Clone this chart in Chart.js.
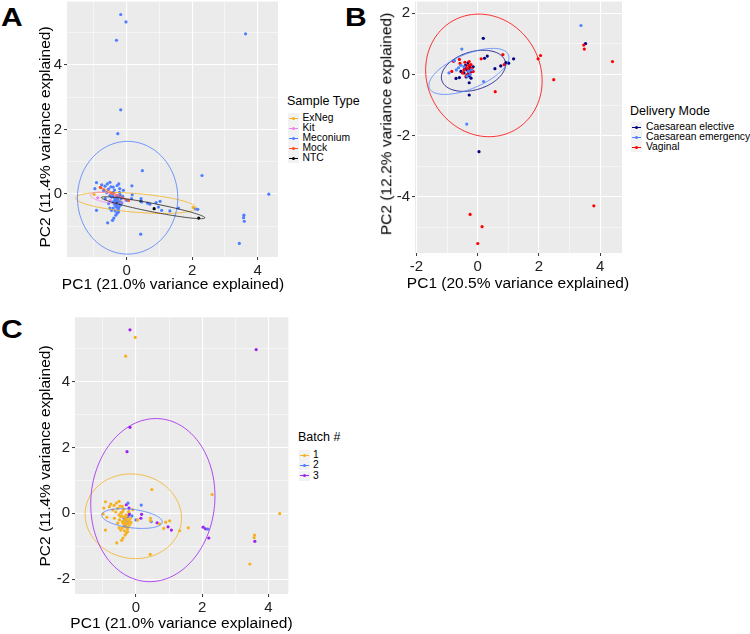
<!DOCTYPE html>
<html>
<head>
<meta charset="utf-8">
<script src="https://cdn.jsdelivr.net/npm/chart.js@4.4.0/dist/chart.umd.min.js"></script>
<style>
  body { margin: 0; background: #fff; width: 750px; height: 634px; position: relative; overflow: hidden;
         font-family: "Liberation Sans", Arial, sans-serif; }
  .panel { position: absolute; }
  .tag { position: absolute; font-weight: bold; font-size: 25px; line-height: 1; transform-origin: left top; transform: scaleX(1.2); }
  .ax { position: absolute; white-space: nowrap; font-size: 15.5px; line-height: 1; color: #000; }
  .lg { position: absolute; white-space: nowrap; color: #000; }
  .lg-title { font-size: 12.5px; line-height: 15px; }
  .lg-text { font-size: 10.3px; line-height: 12px; }
  .lg-key { position: absolute; width: 11px; height: 10px; background: #f2f2f2; }
  .lg-key i { position: absolute; left: 1px; top: 4.5px; width: 9px; height: 1px; }
  .lg-key b { position: absolute; left: 4px; top: 3.5px; width: 3px; height: 3px; border-radius: 50%; }
</style>
</head>
<body>
<div class="tag" style="left:1px;top:5px">A</div>
<div class="tag" style="left:345px;top:5px">B</div>
<div class="tag" style="left:1px;top:317px">C</div>

<canvas id="chartA" class="panel" style="left:0;top:0" width="280" height="300"></canvas>
<canvas id="chartB" class="panel" style="left:372px;top:0" width="252" height="300"></canvas>
<canvas id="chartC" class="panel" style="left:0;top:310px" width="290" height="324"></canvas>
<div id="titles"></div>
<div id="legendA"></div>
<div id="legendB"></div>
<div id="legendC"></div>

<script>
const FONT = '"Liberation Sans", Arial, sans-serif'

// ---- Panels A and C: same PCA, coloured by sample type (A) and batch (C) ----
// [PC1, PC2, sample type, batch]
const acSamples = [
  [-0.18, 5.57, 'Meconium', 3], [-0.02, 5.34, 'Meconium', 1], [-0.31, 4.77, 'Meconium', 1],
  [3.63, 4.97, 'Meconium', 3], [-0.18, 2.61, 'Meconium', 3], [-0.27, 1.87, 'Meconium', 3],
  [0.48, 0.72, 'Meconium', 1], [2.30, 0.57, 'Meconium', 1], [4.34, -0.01, 'Meconium', 1],
  [3.58, -0.66, 'Meconium', 1], [3.57, -0.74, 'Meconium', 1], [3.59, -0.85, 'Meconium', 3],
  [3.44, -1.54, 'Meconium', 1], [0.43, -1.25, 'Meconium', 1], [-0.58, -0.90, 'Meconium', 1],
  [-0.43, -0.82, 'Meconium', 1], [-0.39, -0.75, 'Meconium', 1], [-0.92, -0.51, 'Meconium', 1],
  [-0.92, 0.35, 'Meconium', 1], [-0.97, 0.16, 'Meconium', 1], [-0.76, 0.28, 'Meconium', 1],
  [-0.66, 0.24, 'Meconium', 1], [-0.59, 0.31, 'Meconium', 1], [-0.51, 0.36, 'Meconium', 1],
  [-0.41, 0.21, 'Meconium', 1], [-0.29, 0.26, 'Meconium', 3], [-0.24, 0.31, 'Meconium', 2],
  [-0.21, 0.16, 'Meconium', 3], [-0.10, 0.11, 'Meconium', 1], [0.16, 0.25, 'Meconium', 2],
  [0.17, -0.03, 'Meconium', 3], [0.15, -0.15, 'Meconium', 3], [-0.61, 0.04, 'Meconium', 1],
  [-0.51, -0.05, 'Meconium', 1], [-0.46, -0.10, 'Meconium', 1], [-0.36, -0.15, 'Meconium', 2],
  [-0.31, -0.20, 'Meconium', 2], [-0.25, -0.10, 'Meconium', 2], [-0.21, -0.05, 'Meconium', 3],
  [-0.41, -0.25, 'Meconium', 1], [-0.36, -0.33, 'Meconium', 1], [-0.31, -0.41, 'Meconium', 1],
  [-0.41, -0.44, 'Meconium', 1], [-0.46, -0.51, 'Meconium', 1], [-0.25, -0.56, 'Meconium', 1],
  [-0.33, -0.66, 'Meconium', 1], [-0.51, -0.44, 'Meconium', 1], [0.00, -0.20, 'Meconium', 2],
  [0.46, -0.25, 'Meconium', 2], [0.71, -0.32, 'Meconium', 1], [0.90, -0.27, 'Meconium', 1],
  [1.02, -0.23, 'Meconium', 1], [0.97, -0.41, 'Meconium', 3], [1.07, -0.51, 'Meconium', 3],
  [1.32, -0.53, 'Meconium', 1], [1.58, -0.44, 'Meconium', 1], [0.64, -0.29, 'Meconium', 3],
  [0.44, -0.15, 'Meconium', 1], [2.10, -0.47, 'Meconium', 3], [2.17, -0.48, 'Meconium', 2],
  [-0.28, -0.18, 'Meconium', 1], [-0.22, -0.25, 'Meconium', 1], [-0.35, -0.22, 'Meconium', 1],
  [-0.27, -0.32, 'Meconium', 1], [-0.19, -0.35, 'Meconium', 1], [-0.33, -0.38, 'Meconium', 2],
  [-0.24, -0.42, 'Meconium', 1], [-0.38, -0.30, 'Meconium', 1], [-0.30, -0.10, 'Meconium', 1],
  [-0.17, -0.15, 'Meconium', 1], [-0.42, -0.08, 'Meconium', 1], [-0.26, -0.48, 'Meconium', 1],
  [-0.35, -0.53, 'Meconium', 1], [-0.20, -0.02, 'Meconium', 3], [-0.15, -0.28, 'Meconium', 1],
  [-0.40, 0.05, 'Meconium', 1], [-0.55, 0.15, 'Meconium', 1], [-0.70, 0.10, 'Meconium', 1],
  [-0.65, -0.15, 'Meconium', 1], [-0.55, -0.30, 'Meconium', 1], [-0.29, -0.60, 'Meconium', 1],
  [-0.22, 0.05, 'Meconium', 1], [-0.12, -0.08, 'Meconium', 2], [-0.37, 0.12, 'Meconium', 1],
  [-0.48, 0.22, 'Meconium', 1],
  [0.44, -0.23, 'NTC', 1], [0.84, -0.46, 'NTC', 1], [2.20, -0.75, 'NTC', 3],
  [-0.31, -0.30, 'NTC', 1], [-0.25, -0.28, 'NTC', 2],
  [-0.99, -0.02, 'ExNeg', 1], [2.03, -0.42, 'ExNeg', 3], [-0.20, -0.22, 'ExNeg', 1], [-0.35, -0.12, 'ExNeg', 1],
  [-0.88, -0.12, 'Kit', 1], [-0.50, -0.20, 'Kit', 1], [-0.30, -0.05, 'Kit', 1],
  [-0.80, 0.20, 'Mock', 1], [-0.45, 0.02, 'Mock', 1], [0.05, -0.20, 'Mock', 1]
]

const sampleTypes = ['ExNeg', 'Kit', 'Meconium', 'Mock', 'NTC']
const sampleColors = ['#f5b120', '#ee82ee', '#4d7eff', '#ff4f1f', '#000000']
const sampleDrawOrder = ['Meconium', 'ExNeg', 'Kit', 'Mock', 'NTC']
// stat_ellipse outlines: [centre PC1, centre PC2, semi-axis a, semi-axis b, rotation deg]
const sampleEllipses = [
  [0.28, -0.28, 1.84, 0.29, -4.8],
  [-0.58, -0.12, 0.53, 0.15, -10],
  [0.03, -0.12, 1.53, 1.75, 0],
  [-0.37, -0.01, 0.52, 0.025, -25],
  [0.81, -0.43, 1.61, 0.13, -11.3]
]

const batches = [1, 2, 3]
const batchColors = ['#f5b120', '#4d7eff', '#a020f0']
const batchEllipses = [
  [-0.08, -0.09, 1.46, 1.28, -10],
  [-0.12, -0.16, 0.92, 0.28, -7],
  [0.51, 0.40, 1.87, 2.48, -5]
]

// ---- Panel B: delivery mode PCA ----
const deliveryModes = ['Caesarean elective', 'Caesarean emergency', 'Vaginal']
const deliveryColors = ['#000080', '#4f83ff', '#ff0000']
const electivePoints = [
  [3.52, 1.01], [0.04, -2.52], [-0.28, -0.67], [0.18, 1.18], [0.31, 0.60], [0.22, 0.53],
  [0.56, 0.19], [0.75, 0.28], [0.92, 0.39], [1.01, 0.37], [1.17, 0.51], [-0.71, -0.13],
  [-0.28, -0.27], [-0.35, 0.15], [-0.30, 0.05], [-0.25, 0.20], [-0.40, 0.30], [-0.20, 0.10],
  [-0.45, 0.05], [-0.28, -0.05], [-0.32, 0.38], [-0.55, 0.10], [-0.60, -0.10], [-0.15, 0.25],
  [-0.38, -0.08], [-0.22, -0.12], [-0.27, 0.28], [-0.42, 0.20]
]
const emergencyPoints = [
  [3.37, 1.60], [-0.36, -1.62], [0.19, -0.23], [-0.52, 0.83], [-0.94, 0.05], [-0.63, 0.22],
  [-0.30, 0.10], [-0.45, 0.25], [-0.25, 0.00], [-0.55, 0.30], [-0.20, 0.15], [-0.70, 0.15],
  [-0.35, -0.05], [-0.76, 0.45]
]
const vaginalPoints = [
  [4.40, 0.42], [1.97, 0.51], [2.05, 0.62], [2.48, -0.17], [3.46, 0.96], [3.48, 0.83],
  [3.79, -4.29], [-0.25, -4.57], [0.14, -4.97], [0.00, -5.52], [0.57, -0.56], [0.11, 0.51],
  [0.82, 0.65], [0.86, 0.32], [-0.85, 0.10], [-0.79, 0.43], [-0.58, 0.36], [-0.40, 0.25],
  [-0.30, 0.30], [-0.25, 0.05], [-0.35, 0.00], [-0.45, 0.15], [-0.20, 0.20], [-0.30, 0.12],
  [-0.42, 0.40], [-0.50, 0.05], [-0.22, 0.32], [-0.38, -0.05], [-0.60, 0.49], [-0.28, 0.42],
  [-0.15, 0.10], [-0.33, 0.20]
]
const deliveryEllipses = [
  [-0.14, 0.12, 1.08, 0.62, 17],
  [-0.29, 0.10, 1.40, 0.56, 23],
  [0.20, -0.03, 1.85, 2.05, 30]
]

/* ---- plugins ---- */
const panelBg = {
  id: 'panelBg',
  beforeDraw(chart) {
    const { ctx, chartArea: a } = chart
    ctx.save()
    ctx.fillStyle = '#ebebeb'
    ctx.fillRect(a.left, a.top, a.right - a.left, a.bottom - a.top)
    ctx.restore()
  }
}

const ellipses = {
  id: 'ellipses',
  afterDatasetsDraw(chart, args, opts) {
    const { ctx, chartArea: a, scales: { x, y } } = chart
    ctx.save()
    ctx.beginPath()
    ctx.rect(a.left, a.top, a.right - a.left, a.bottom - a.top)
    ctx.clip()
    ctx.globalAlpha = 0.8
    opts.items.forEach(([e, color]) => {
      const [cx, cy, ra, rb, deg] = e
      const th = deg * Math.PI / 180
      ctx.beginPath()
      for (let i = 0; i <= 160; i++) {
        const t = i / 160 * 2 * Math.PI
        const vx = cx + ra * Math.cos(th) * Math.cos(t) - rb * Math.sin(th) * Math.sin(t)
        const vy = cy + ra * Math.sin(th) * Math.cos(t) + rb * Math.cos(th) * Math.sin(t)
        const px = x.getPixelForValue(vx), py = y.getPixelForValue(vy)
        if (i === 0) ctx.moveTo(px, py)
        else ctx.lineTo(px, py)
      }
      ctx.strokeStyle = color
      ctx.lineWidth = 1
      ctx.stroke()
    })
    ctx.restore()
  }
}

const isMajor = (v) => Math.abs(Math.round(v)) % 2 === 0

function axis(min, max, size) {
  return {
    type: 'linear',
    min, max,
    afterFit: (s) => {
      if (s.isHorizontal()) { s.height = size; s.paddingLeft = 0; s.paddingRight = 0 }
      else { s.width = size; s.paddingTop = 0; s.paddingBottom = 0 }
    },
    border: { display: false },
    grid: {
      color: '#ffffff',
      lineWidth: (c) => (c.tick && isMajor(c.tick.value) ? 1.1 : 0.5),
      tickColor: (c) => (c.tick && isMajor(c.tick.value) ? '#333333' : 'rgba(0,0,0,0)'),
      tickLength: 3,
      tickWidth: 1
    },
    ticks: {
      stepSize: 1,
      includeBounds: false,
      autoSkip: false,
      maxRotation: 0,
      padding: 2,
      color: '#222',
      font: { family: FONT, size: 15 },
      callback: (v) => (isMajor(v) ? String(Math.round(v)) : '')
    },
    title: { display: false }
  }
}

function scatterSet(label, points, color) {
  return {
    label,
    data: points.map(([x, y]) => ({ x, y })),
    backgroundColor: color,
    borderWidth: 0,
    pointRadius: 1.6,
    pointHoverRadius: 1.6
  }
}

function makePanel(id, datasets, ell, xr, yr, sizes, layoutPad) {
  return new Chart(document.getElementById(id), {
    type: 'scatter',
    data: { datasets },
    options: {
      responsive: false,
      animation: false,
      events: [],
      layout: { padding: layoutPad },
      plugins: {
        legend: { display: false },
        tooltip: { enabled: false },
        ellipses: { items: ell }
      },
      scales: {
        x: axis(xr[0], xr[1], sizes[0]),
        y: axis(yr[0], yr[1], sizes[1])
      }
    },
    plugins: [panelBg, ellipses]
  })
}

/* ---- Panel A ---- */
makePanel('chartA',
  sampleDrawOrder.map((t) => {
    const i = sampleTypes.indexOf(t)
    return scatterSet(t, acSamples.filter((s) => s[2] === t), sampleColors[i])
  }),
  sampleEllipses.map((e, i) => [e, sampleColors[i] === '#000000' ? '#222' : sampleColors[i]]),
  [-1.82, 4.62], [-1.96, 5.97], [43, 67],
  { left: 0, right: 2, top: 0, bottom: 0 })

/* ---- Panel B ---- */
makePanel('chartB',
  [
    scatterSet(deliveryModes[1], emergencyPoints, deliveryColors[1]),
    scatterSet(deliveryModes[2], vaginalPoints, deliveryColors[2]),
    scatterSet(deliveryModes[0], electivePoints, deliveryColors[0])
  ],
  deliveryEllipses.map((e, i) => [e, deliveryColors[i]]),
  [-2.05, 4.71], [-5.83, 2.38], [47, 43],
  { left: 0, right: 2, top: 0, bottom: 0 })

/* ---- Panel C ---- */
makePanel('chartC',
  batches.map((b, i) => scatterSet(String(b), acSamples.filter((s) => s[3] === b), batchColors[i])),
  batchEllipses.map((e, i) => [e, batchColors[i]]),
  [-1.84, 4.60], [-2.45, 5.95], [40, 75],
  { left: 0, right: 1.7, top: 7.3, bottom: 0 })

/* ---- axis titles (html, so ggplot-style text can run wider than the panel) ---- */
const axisTitles = [
  ['PC1 (21.0% variance explained)', 173, 284, 0],
  ['PC2 (11.4% variance explained)', 45, 137, -90],
  ['PC1 (20.5% variance explained)', 518, 283.3, 0],
  ['PC2 (12.2% variance explained)', 385.5, 124, -90],
  ['PC1 (21.0% variance explained)', 181.5, 623.3, 0],
  ['PC2 (11.4% variance explained)', 45, 455.6, -90]
]
document.getElementById('titles').innerHTML = axisTitles.map(([t, x, y, r]) =>
  `<div class="ax" style="left:${x}px;top:${y}px;transform:translate(-50%,-50%) rotate(${r}deg)">${t}</div>`
).join('')

/* ---- legends ---- */
function buildLegend(el, title, labels, colors, pos) {
  let html = `<div class="lg lg-title" style="left:${pos.left}px;top:${pos.titleY - 7.5}px">${title}</div>`
  labels.forEach((lab, i) => {
    const cy = pos.itemY + i * pos.step
    html += `<div class="lg-key" style="left:${pos.keyLeft}px;top:${cy - 5}px">` +
      `<i style="background:${colors[i]}"></i><b style="background:${colors[i]}"></b></div>`
    html += `<div class="lg lg-text" style="left:${pos.textLeft}px;top:${cy - 6}px">${lab}</div>`
  })
  document.getElementById(el).innerHTML = html
}

buildLegend('legendA', 'Sample Type', sampleTypes, sampleColors,
  { left: 287, titleY: 101.5, itemY: 118, step: 10, keyLeft: 287.5, textLeft: 302.5 })
buildLegend('legendB', 'Delivery Mode', deliveryModes, deliveryColors,
  { left: 630, titleY: 111, itemY: 127, step: 10, keyLeft: 631, textLeft: 646 })
buildLegend('legendC', 'Batch #', batches.map(String), batchColors,
  { left: 298, titleY: 437.7, itemY: 455, step: 10.3, keyLeft: 298.5, textLeft: 313 })
</script>
</body>
</html>
